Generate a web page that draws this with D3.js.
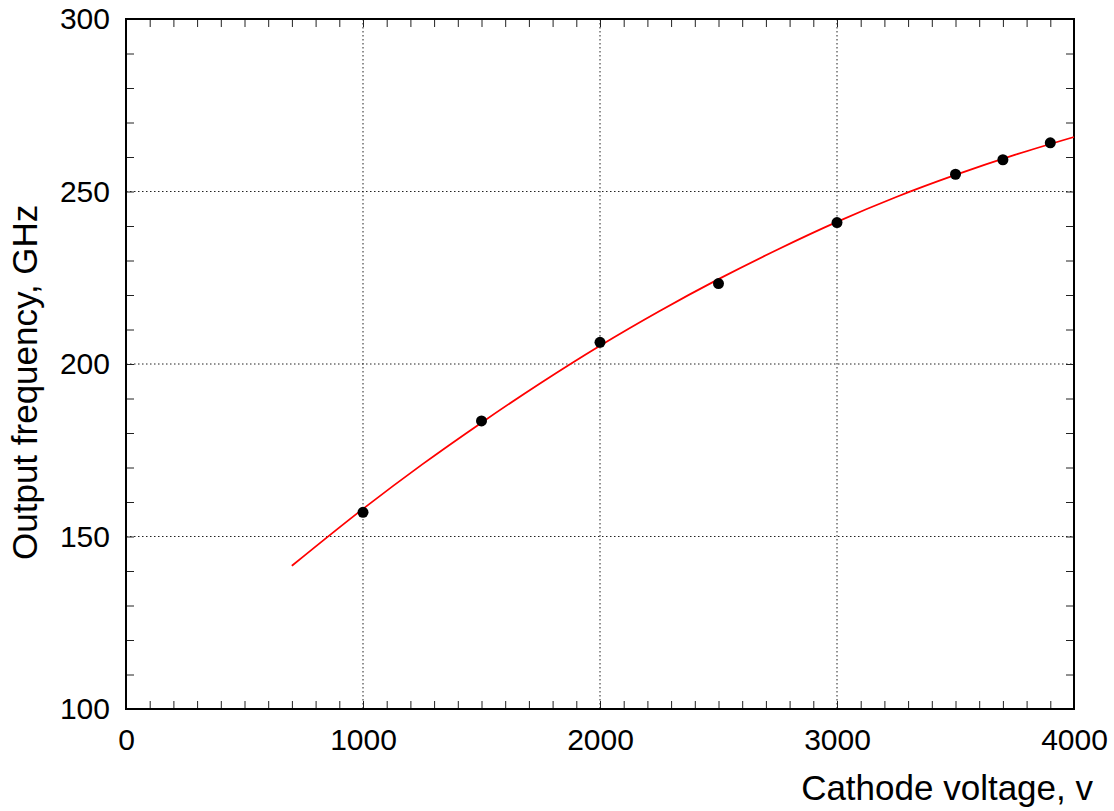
<!DOCTYPE html>
<html>
<head>
<meta charset="utf-8">
<script src="https://cdn.jsdelivr.net/npm/d3@7"></script>
<style>
  body { margin: 0; background: #fff; }
  svg text { font-family: "Liberation Sans", Arial, sans-serif; fill: #000; }
</style>
</head>
<body>
<svg id="chart" width="1114" height="811"></svg>
<script>
// measured points
const voltage = [1000, 1500, 2000, 2500, 3000, 3500, 3700, 3900];
const frequency = [157, 183.5, 206.3, 223.3, 241, 255, 259.2, 264.1];

// fitted curve
const fitVoltage = [700, 1000, 1250, 1500, 1750, 2000, 2250, 2500, 2750, 3000, 3250, 3500, 3750, 4000];
const fitFrequency = [141.5, 158, 170.9, 183, 194.5, 205.3, 215.3, 224.6, 233.2, 241.2, 248.4, 254.8, 260.6, 265.8];

const xTicks = [0, 1000, 2000, 3000, 4000];
const yTicks = [100, 150, 200, 250, 300];

const svg = d3.select("#chart");
const margin = { top: 19, right: 40, bottom: 102, left: 126 };
const width = 1114 - margin.left - margin.right;
const height = 811 - margin.top - margin.bottom;

const x = d3.scaleLinear().domain([0, 4000]).range([0, width]);
const y = d3.scaleLinear().domain([100, 300]).range([height, 0]);

const g = svg.append("g").attr("transform", `translate(${margin.left},${margin.top})`);

// grid
g.append("g")
  .selectAll("line")
  .data(xTicks.slice(1, -1))
  .enter()
  .append("line")
  .attr("x1", (d) => x(d))
  .attr("x2", (d) => x(d))
  .attr("y1", 0)
  .attr("y2", height)
  .attr("stroke", "#222")
  .attr("stroke-width", 1)
  .attr("stroke-dasharray", "1.5,2.5");

g.append("g")
  .selectAll("line")
  .data(yTicks.slice(1, -1))
  .enter()
  .append("line")
  .attr("x1", 0)
  .attr("x2", width)
  .attr("y1", (d) => y(d))
  .attr("y2", (d) => y(d))
  .attr("stroke", "#222")
  .attr("stroke-width", 1)
  .attr("stroke-dasharray", "1.5,2.5");

// minor ticks on all four sides
const minorX = d3.range(100, 4000, 100);
const minorY = d3.range(110, 300, 10);
const tickLen = 8;

const styleAxis = (sel) => {
  sel.select(".domain").remove();
  sel.selectAll(".tick line").attr("stroke", "#222").attr("stroke-width", 1);
};

g.append("g")
  .attr("transform", `translate(0,${height})`)
  .call(d3.axisTop(x).tickValues(minorX).tickSize(tickLen).tickFormat(""))
  .call(styleAxis);
g.append("g")
  .call(d3.axisBottom(x).tickValues(minorX).tickSize(tickLen).tickFormat(""))
  .call(styleAxis);
g.append("g")
  .call(d3.axisRight(y).tickValues(minorY).tickSize(tickLen).tickFormat(""))
  .call(styleAxis);
g.append("g")
  .attr("transform", `translate(${width},0)`)
  .call(d3.axisLeft(y).tickValues(minorY).tickSize(tickLen).tickFormat(""))
  .call(styleAxis);

// tick labels
g.append("g")
  .attr("transform", `translate(0,${height})`)
  .call(d3.axisBottom(x).tickValues(xTicks).tickSize(0).tickPadding(20).tickFormat(d3.format("d")))
  .call((sel) => sel.select(".domain").remove())
  .selectAll("text")
  .style("font-size", "30px");

g.append("g")
  .call(d3.axisLeft(y).tickValues(yTicks).tickSize(0).tickPadding(16).tickFormat(d3.format("d")))
  .call((sel) => sel.select(".domain").remove())
  .selectAll("text")
  .style("font-size", "30px");

// frame
g.append("rect")
  .attr("width", width)
  .attr("height", height)
  .attr("fill", "none")
  .attr("stroke", "#000")
  .attr("stroke-width", 2);

// fitted curve
const line = d3
  .line()
  .x((d) => x(d[0]))
  .y((d) => y(d[1]))
  .curve(d3.curveMonotoneX);

g.append("path")
  .datum(fitVoltage.map((v, i) => [v, fitFrequency[i]]))
  .attr("d", line)
  .attr("fill", "none")
  .attr("stroke", "#ff0000")
  .attr("stroke-width", 1.8);

// data points
g.append("g")
  .selectAll("circle")
  .data(voltage.map((v, i) => [v, frequency[i]]))
  .enter()
  .append("circle")
  .attr("cx", (d) => x(d[0]))
  .attr("cy", (d) => y(d[1]))
  .attr("r", 5.5)
  .attr("fill", "#000");

// axis titles
svg.append("text")
  .attr("x", 1093)
  .attr("y", 800)
  .attr("text-anchor", "end")
  .style("font-size", "35px")
  .text("Cathode voltage, v");

svg.append("text")
  .attr("transform", "translate(37,560) rotate(-90)")
  .attr("text-anchor", "start")
  .style("font-size", "35px")
  .text("Output frequency, GHz");
</script>
</body>
</html>
